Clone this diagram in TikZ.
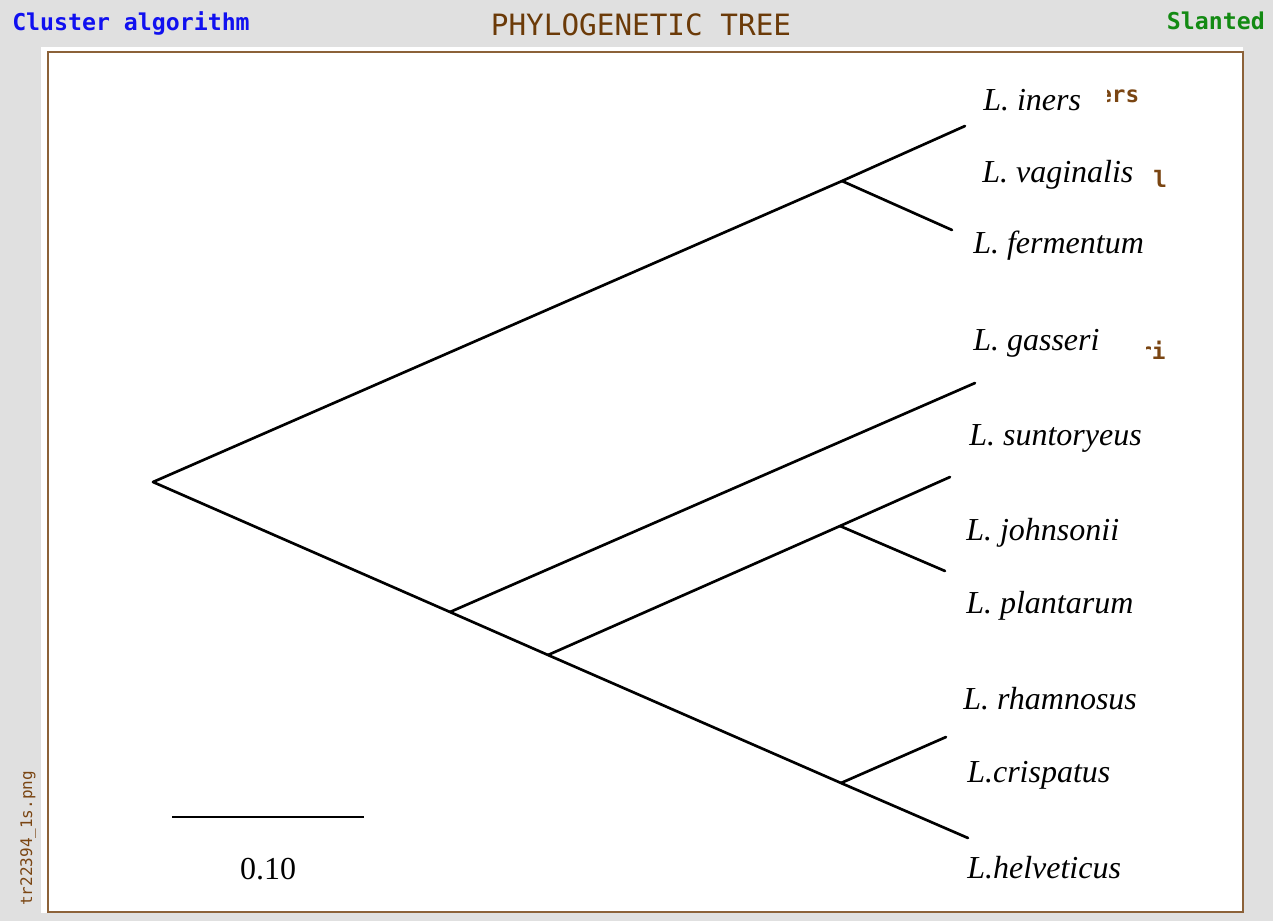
\documentclass[tikz,border=0pt]{standalone}
\usepackage{fontspec}
\setmainfont{Liberation Serif}
\newfontfamily\monob{DejaVu Sans Mono}[BoldFont={DejaVu Sans Mono Bold}]
\definecolor{bggray}{HTML}{E0E0E0}
\definecolor{framebrown}{HTML}{8C6239}
\definecolor{titlebrown}{HTML}{6B3A08}
\definecolor{hdrblue}{HTML}{1010F0}
\definecolor{hdrgreen}{HTML}{138A13}
\definecolor{fragbrown}{HTML}{7A4512}
\tikzset{
  branch/.style={line width=2pt, line cap=round, line join=round, black},
  leaf/.style={anchor=base west, inner sep=0pt, font=\fontsize{24pt}{28pt}\selectfont\itshape},
  frag/.style={anchor=base west, inner sep=0pt, font=\monob\bfseries\fontsize{17pt}{20pt}\selectfont, text=fragbrown},
}
\begin{document}
\begin{tikzpicture}[x=0.75pt, y=-0.75pt]
\useasboundingbox (0,0) rectangle (1273,921);
\fill[bggray] (0,0) rectangle (1273,921);
\fill[white] (41,47) rectangle (1243,913);
\draw[framebrown, line width=2.2pt, fill=white] (48,52) rectangle (1243,912);

% header
\node[anchor=base west, inner sep=0pt, text=hdrblue, font=\monob\bfseries\fontsize{17.4pt}{20pt}\selectfont] (hdrL) at (12,30) {Cluster algorithm};
\node[anchor=base, inner sep=0pt, text=titlebrown, font=\monob\fontsize{22pt}{26pt}\selectfont] (hdrT) at (641,35) {PHYLOGENETIC TREE};
\node[anchor=base east, inner sep=0pt, text=hdrgreen, font=\monob\bfseries\fontsize{17.4pt}{20pt}\selectfont] (hdrR) at (1265,29) {Slanted};
\node[anchor=base west, inner sep=0pt, rotate=90, text=fragbrown, font=\monob\fontsize{12pt}{14pt}\selectfont] (fname) at (32,906) {tr22394\_1s.png};

% tree nodes
\coordinate (root) at (153,482);
\coordinate (n1) at (842,181);
\coordinate (n2) at (450,612);
\coordinate (n3) at (548,655);
\coordinate (n4) at (840,526);
\coordinate (n5) at (841,783);
% tips
\coordinate (tIners) at (965,126);
\coordinate (tFerm) at (952,230);
\coordinate (tGass) at (975,383);
\coordinate (tJohn) at (950,477);
\coordinate (tPlant) at (945,571);
\coordinate (tCrisp) at (946,737);
\coordinate (tHelv) at (968,838);

\draw[branch] (tIners) -- (n1) -- (root) -- (n2) -- (n3) -- (n5) -- (tHelv);
\draw[branch] (n1) -- (tFerm);
\draw[branch] (n2) -- (tGass);
\draw[branch] (n3) -- (n4) -- (tJohn);
\draw[branch] (n4) -- (tPlant);
\draw[branch] (n5) -- (tCrisp);

% leftover fragments of the original labels
\node[frag] (f1) at (1098,102) {ers};
\fill[white] (1088,80) rectangle (1107,106);
\node[frag] (f2) at (1153,187) {l};
\node[frag] (f3) at (1138,359) {ri};
\fill[white] (1130,335) rectangle (1146,364);

% labels
\node[leaf] (lIners) at (983,110) {L. iners};
\node[leaf] (lVag) at (982,182) {L. vaginalis};
\node[leaf] (lFerm) at (973,253) {L. fermentum};
\node[leaf] (lGass) at (973,350) {L. gasseri};
\node[leaf] (lSunt) at (969,445) {L. suntoryeus};
\node[leaf] (lJohn) at (966,540) {L. johnsonii};
\node[leaf] (lPlant) at (966,613) {L. plantarum};
\node[leaf] (lRham) at (963,709) {L. rhamnosus};
\node[leaf] (lCrisp) at (967,782) {L.crispatus};
\node[leaf] (lHelv) at (967,878) {L.helveticus};

% scale bar
\coordinate (sb1) at (172,817);
\coordinate (sb2) at (364,817);
\draw[line width=1.7pt] (sb1) -- (sb2);
\node[anchor=base, inner sep=0pt, font=\fontsize{24pt}{28pt}\selectfont] (sblab) at (268,879) {0.10};
\end{tikzpicture}
\end{document}
